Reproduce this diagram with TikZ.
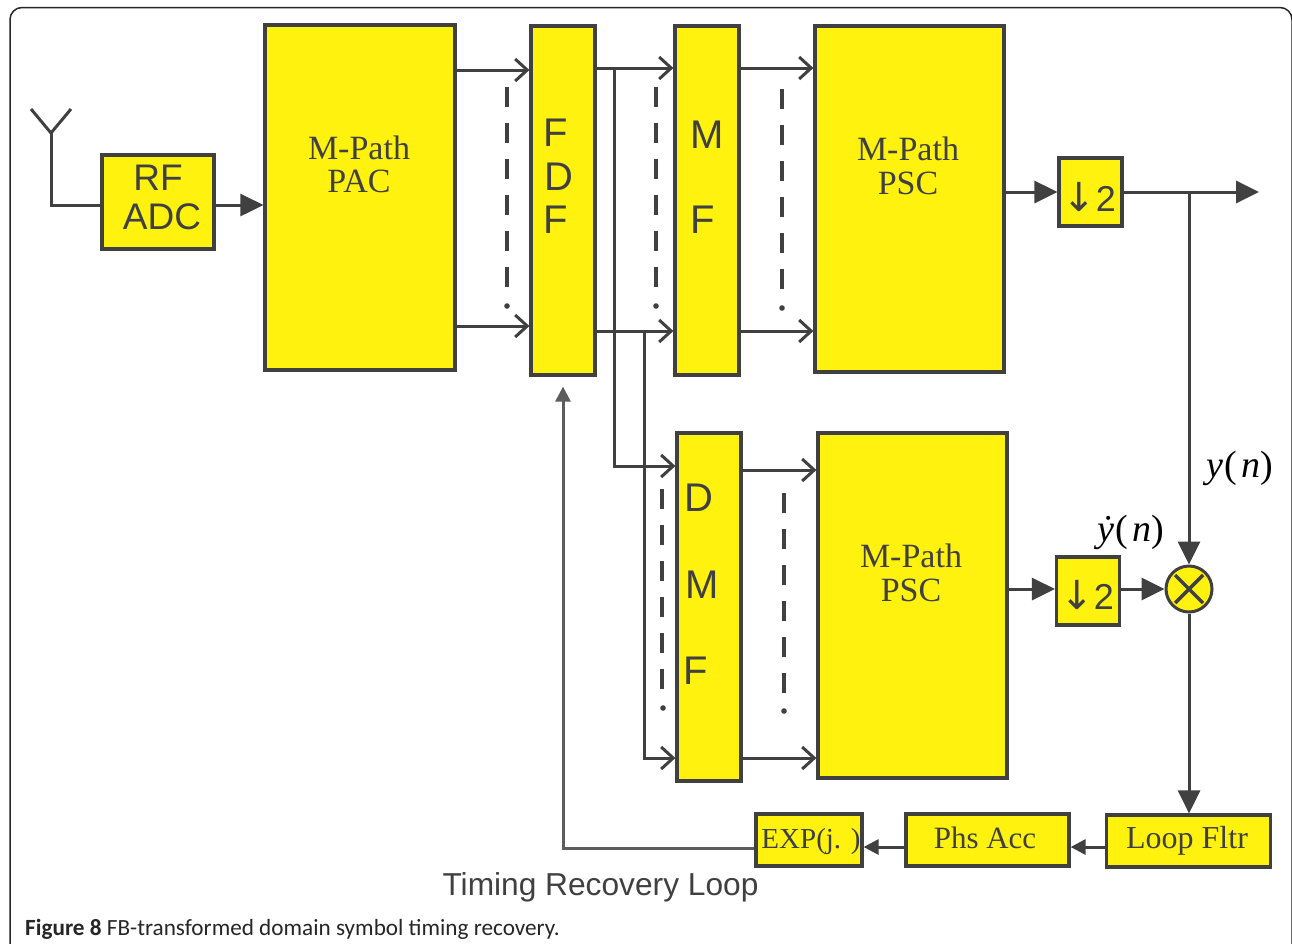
\documentclass[tikz,border=0pt]{standalone}
\usepackage{fontspec}
\setmainfont{Liberation Sans}
\newfontfamily\serifish{Liberation Serif}
\newfontfamily\capfont{Carlito}
\newfontfamily\arrowfont{DejaVu Sans}
\usetikzlibrary{arrows.meta,calc}
\definecolor{boxyellow}{HTML}{FFF20F}
\definecolor{inkgrey}{HTML}{404040}
\tikzset{
  x=1pt,y=-1pt,
  blockbox/.style={draw=inkgrey,line width=3.2pt,fill=boxyellow,inner sep=0pt,rectangle},
  wire/.style={draw=inkgrey,line width=3pt},
  barb/.style={wire,-{Straight Barb[length=12pt,width=22pt,line width=3pt]}},
  solidarrow/.style={wire,-{Triangle[length=23pt,width=22pt]}},
  smallarrow/.style={wire,-{Triangle[length=15pt,width=15pt]}},
  loopback/.style={draw=inkgrey!85,line width=3pt,-{Triangle[length=15pt,width=15pt]}},
  dots/.style={draw=inkgrey,line width=3.4pt,dash pattern=on 20pt off 16pt},
  sanslabel/.style={font=\fontsize{37}{37}\selectfont,text=inkgrey,inner sep=0pt},
  letterlabel/.style={font=\fontsize{40}{40}\selectfont,text=inkgrey,inner sep=0pt},
  seriflabel/.style={font=\serifish\fontsize{34}{36}\selectfont,text=inkgrey,inner sep=0pt,align=center},
  mathlabel/.style={font=\serifish\itshape\fontsize{38}{38}\selectfont,text=black,inner sep=0pt},
  downlabel/.style={font=\fontsize{36}{36}\selectfont,text=inkgrey,inner sep=0pt},
}
\begin{document}
\begin{tikzpicture}
\useasboundingbox (0,0) rectangle (1292,943);
\fill[white] (0,0) rectangle (1292,943);
\draw[black!85,line width=1.5pt,rounded corners=12pt] (10,960) -- (10,7.5) -- (1292,7.5) -- (1292,960);
% blocks
\node[blockbox,minimum width=112pt,minimum height=94pt] (rf) at (158,202) {};
\node[blockbox,minimum width=190pt,minimum height=345pt] (pac) at (360,197.5) {};
\node[blockbox,minimum width=64pt,minimum height=349pt] (fdf) at (563,200.5) {};
\node[blockbox,minimum width=64pt,minimum height=349pt] (mf) at (707,200.5) {};
\node[blockbox,minimum width=189pt,minimum height=346pt] (psca) at (909.5,199) {};
\node[blockbox,minimum width=63pt,minimum height=68pt] (dna) at (1090.5,192) {};
\node[blockbox,minimum width=64pt,minimum height=348pt] (dmf) at (709,607) {};
\node[blockbox,minimum width=189pt,minimum height=345pt] (pscb) at (912.5,605.5) {};
\node[blockbox,minimum width=63pt,minimum height=68pt] (dnb) at (1088,591) {};
\node[blockbox,minimum width=164pt,minimum height=52pt] (lf) at (1188.5,841) {};
\node[blockbox,minimum width=163pt,minimum height=52pt] (pa) at (987.5,840) {};
\node[blockbox,minimum width=106pt,minimum height=52pt] (ex) at (809,840) {};
\node[circle,draw=inkgrey,line width=3pt,fill=boxyellow,minimum size=46pt,inner sep=0pt] (mx) at (1189,589) {};
\draw[inkgrey,line width=3.5pt] (mx.center)+(-14,-14) -- +(14,14) (mx.center)+(-14,14) -- +(14,-14);
% labels
\node[sanslabel] (t1) at (158,178) {RF};
\node[sanslabel] (t2) at (162,217) {ADC};
\node[seriflabel] (t3) at (359,148) {M-Path};
\node[seriflabel] (t4) at (359,181) {PAC};
\node[seriflabel] (t5) at (908,149) {M-Path};
\node[seriflabel] (t6) at (908,183) {PSC};
\node[seriflabel] (t7) at (911,556) {M-Path};
\node[seriflabel] (t8) at (911,590) {PSC};
\node[letterlabel] (t9) at (556,133) {F};
\node[letterlabel] (t10) at (559,177) {D};
\node[letterlabel] (t11) at (556,220) {F};
\node[letterlabel] (t12) at (707,135) {M};
\node[letterlabel] (t13) at (703,220) {F};
\node[letterlabel] (t14) at (699,498) {D};
\node[letterlabel] (t15) at (702,585) {M};
\node[letterlabel] (t16) at (696,671) {F};
\node[downlabel] (t17) at (1089,197) {{\arrowfont\fontsize{40}{40}\selectfont ↓}2};
\node[downlabel] (t18) at (1087,595) {{\arrowfont\fontsize{40}{40}\selectfont ↓}2};
\node[seriflabel,font=\serifish\fontsize{32}{32}\selectfont] (t19) at (1187,841) {Loop Fltr};
\node[seriflabel,font=\serifish\fontsize{31}{32}\selectfont] (t20) at (985,838) {Phs Acc};
\node[seriflabel,font=\serifish\fontsize{29}{30}\selectfont] (t21) at (811,842) {EXP(j. )};
\node[mathlabel] (t22) at (1240,468) {y\kern1pt\upshape(\kern4pt\itshape n\upshape)};
\node[mathlabel] (t23) at (1131,532) {\.y\kern1pt\upshape(\kern4pt\itshape n\upshape)};
\node[font=\fontsize{31.7}{32}\selectfont,text=inkgrey,inner sep=0pt] (t24) at (600.5,887) {Timing Recovery Loop};
\node[font=\capfont\fontsize{23.2}{25}\selectfont,text=black!85,inner sep=0pt,anchor=west] (cap) at (25,929.5) {\textbf{Figure 8} FB-transformed domain symbol timing recovery.};
% antenna
\coordinate (antfoot) at (51,205);
\coordinate (antjoin) at (51,133);
\coordinate (antl) at (31,109);
\coordinate (antr) at (71,109);
\draw[wire] (antl) -- (antjoin) -- (antr);
\draw[wire] (antjoin) -- (antfoot) -- (rf.west |- antfoot);
\draw[solidarrow] (rf.east |- antfoot) -- (pac.west |- antfoot);
% upper bank
\draw[barb] (pac.east |- 0,70) -- (fdf.west |- 0,70);
\draw[barb] (pac.east |- 0,326) -- (fdf.west |- 0,326);
\draw[barb] (fdf.east |- 0,68) -- (mf.west |- 0,68);
\draw[barb] (fdf.east |- 0,331) -- (mf.west |- 0,331);
\draw[barb] (mf.east |- 0,68) -- (psca.west |- 0,68);
\draw[barb] (mf.east |- 0,331) -- (psca.west |- 0,331);
\coordinate (bra) at (614,68);
\coordinate (brb) at (644,331);
\draw[barb] (bra) -- (bra |- 0,466) -- (dmf.west |- 0,466);
\draw[barb] (brb) -- (brb |- 0,758) -- (dmf.west |- 0,758);
\draw[barb] (dmf.east |- 0,470) -- (pscb.west |- 0,470);
\draw[barb] (dmf.east |- 0,758) -- (pscb.west |- 0,758);
% dash-dots
\draw[dots] (507,87) -- (507,288);
\fill[inkgrey] (507,306) circle (2.8pt);
\draw[dots] (656,87) -- (656,288);
\fill[inkgrey] (656,306) circle (2.8pt);
\draw[dots] (782,89) -- (782,290);
\fill[inkgrey] (782,308) circle (2.8pt);
\draw[dots] (662,489) -- (662,690);
\fill[inkgrey] (663,708) circle (2.8pt);
\draw[dots] (784,493) -- (784,694);
\fill[inkgrey] (784,711) circle (2.8pt);
% right side
\coordinate (outend) at (1259,192);
\coordinate (tap) at (1189,192);
\draw[solidarrow] (psca.east |- dna.west) -- (dna.west);
\draw[solidarrow] (dna.east) -- (outend);
\draw[solidarrow] (tap) -- (mx.north);
\draw[solidarrow] (pscb.east |- mx.west) -- (dnb.west |- mx.west);
\draw[solidarrow] (dnb.east |- mx.west) -- (mx.west);
\draw[solidarrow] (mx.south) -- (mx.south |- lf.north);
\draw[smallarrow] (lf.west |- 0,847) -- (pa.east |- 0,847);
\draw[smallarrow] (pa.west |- 0,847) -- (ex.east |- 0,847);
\draw[loopback] (ex.west |- 0,848) -- (fdf.south |- 0,848) -- ($(fdf.south)+(0,10)$);
\end{tikzpicture}
\end{document}
